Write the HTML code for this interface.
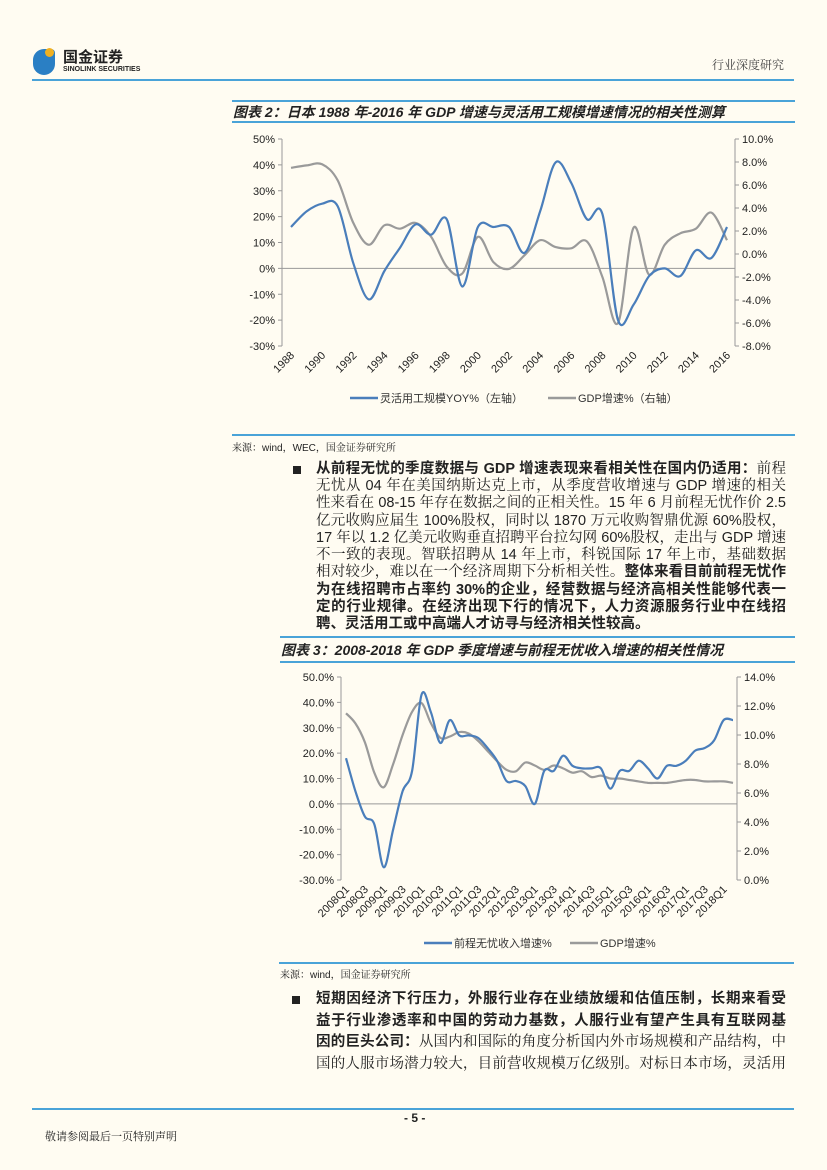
<!DOCTYPE html>
<html><head><meta charset="utf-8">
<style>
body{margin:0;background:#fffcf2;}
#page{position:relative;width:827px;height:1170px;overflow:hidden;background:#fffcf2;font-family:"Liberation Sans","Noto Sans CJK SC",sans-serif;color:#222;}
.abs{position:absolute;}
.hl{position:absolute;height:2px;background:#4aa3d8;}
.ln{position:absolute;font-family:"Liberation Sans","Noto Serif CJK SC",serif;font-size:14.5px;line-height:17px;text-align:justify;text-align-last:justify;white-space:nowrap;overflow:visible;}
.ln.last{text-align-last:left;}
.ln b{font-weight:bold;font-family:"Liberation Sans","Noto Sans CJK SC",sans-serif;}
.bullet{position:absolute;width:8px;height:8px;background:#222;}
svg text{font-family:"Liberation Sans","Noto Sans CJK SC",sans-serif;}
</style></head><body>
<div id="page">
  <div class="abs" style="left:33px;top:49px;width:22px;height:26px;border-radius:11px 4px 11px 11px;background:#2a7fc4;"></div>
  <div class="abs" style="left:45px;top:48px;width:9px;height:9px;border-radius:50%;background:#f0b020;"></div>
  <div class="abs" style="left:63px;top:46px;font-size:15px;font-weight:bold;font-family:'Noto Sans CJK SC',sans-serif;">国金证券</div>
  <div class="abs" style="left:63px;top:66px;font-size:7px;font-weight:bold;">SINOLINK SECURITIES</div>
  <div class="abs" style="left:712px;top:56px;font-size:12px;font-family:'Noto Serif CJK SC',serif;color:#444;">行业深度研究</div>
  <div class="hl" style="left:32px;top:79px;width:762px;"></div>

  <div class="hl" style="left:232px;top:100px;width:563px;"></div>
  <div class="abs" style="left:233px;top:102px;font-size:14px;font-weight:bold;font-style:italic;">图表 2：日本 1988 年-2016 年 GDP 增速与灵活用工规模增速情况的相关性测算</div>
  <div class="hl" style="left:232px;top:121px;width:563px;"></div>

  <svg class="abs" style="left:0;top:0" width="827" height="1170">
    <g id="c1"></g><g id="c2"></g>
  </svg>

  <div class="hl" style="left:232px;top:434px;width:563px;"></div>
  <div class="abs" style="left:232px;top:439px;font-size:10px;font-family:'Liberation Sans','Noto Serif CJK SC',serif;">来源：wind，WEC，国金证券研究所</div>

  <div class="bullet" style="left:293px;top:466px;"></div>
  <div>
    <div class="ln" style="left:316px;top:461px;width:470px;"><b>从前程无忧的季度数据与 GDP 增速表现来看相关性在国内仍适用：</b>前程</div>
    <div class="ln" style="left:316px;top:478px;width:470px;">无忧从 04 年在美国纳斯达克上市，从季度营收增速与 GDP 增速的相关</div>
    <div class="ln" style="left:316px;top:495px;width:470px;">性来看在 08-15 年存在数据之间的正相关性。15 年 6 月前程无忧作价 2.5</div>
    <div class="ln" style="left:316px;top:513px;width:470px;">亿元收购应届生 100%股权，同时以 1870 万元收购智鼎优源 60%股权，</div>
    <div class="ln" style="left:316px;top:530px;width:470px;">17 年以 1.2 亿美元收购垂直招聘平台拉勾网 60%股权，走出与 GDP 增速</div>
    <div class="ln" style="left:316px;top:547px;width:470px;">不一致的表现。智联招聘从 14 年上市，科锐国际 17 年上市，基础数据</div>
    <div class="ln" style="left:316px;top:564px;width:470px;">相对较少，难以在一个经济周期下分析相关性。<b>整体来看目前前程无忧作</b></div>
    <div class="ln" style="left:316px;top:582px;width:470px;"><b>为在线招聘市占率约 30%的企业，经营数据与经济高相关性能够代表一</b></div>
    <div class="ln" style="left:316px;top:599px;width:470px;"><b>定的行业规律。在经济出现下行的情况下，人力资源服务行业中在线招</b></div>
    <div class="ln last" style="left:316px;top:616px;width:470px;"><b>聘、灵活用工或中高端人才访寻与经济相关性较高。</b></div>
  </div>

  <div class="hl" style="left:280px;top:636px;width:515px;"></div>
  <div class="abs" style="left:281px;top:640px;font-size:14px;font-weight:bold;font-style:italic;">图表 3：2008-2018 年 GDP 季度增速与前程无忧收入增速的相关性情况</div>
  <div class="hl" style="left:280px;top:661px;width:515px;"></div>

  <div class="hl" style="left:279px;top:962px;width:515px;"></div>
  <div class="abs" style="left:280px;top:966px;font-size:10px;font-family:'Liberation Sans','Noto Serif CJK SC',serif;">来源：wind，国金证券研究所</div>

  <div class="bullet" style="left:292px;top:996px;"></div>
  <div>
    <div class="ln" style="left:316px;top:991px;width:470px;"><b>短期因经济下行压力，外服行业存在业绩放缓和估值压制，长期来看受</b></div>
    <div class="ln" style="left:316px;top:1013px;width:470px;"><b>益于行业渗透率和中国的劳动力基数，人服行业有望产生具有互联网基</b></div>
    <div class="ln" style="left:316px;top:1034px;width:470px;"><b>因的巨头公司：</b>从国内和国际的角度分析国内外市场规模和产品结构，中</div>
    <div class="ln" style="left:316px;top:1056px;width:470px;">国的人服市场潜力较大，目前营收规模万亿级别。对标日本市场，灵活用</div>
  </div>

  <div class="hl" style="left:32px;top:1108px;width:762px;"></div>
  <div class="abs" style="left:404px;top:1111px;font-size:12px;font-weight:bold;">- 5 -</div>
  <div class="abs" style="left:45px;top:1128px;font-size:11px;font-family:'Noto Serif CJK SC',serif;">敬请参阅最后一页特别声明</div>
</div>
<script>
// Chart 1 data
const years1 = [1988,1989,1990,1991,1992,1993,1994,1995,1996,1997,1998,1999,2000,2001,2002,2003,2004,2005,2006,2007,2008,2009,2010,2011,2012,2013,2014,2015,2016];
const flexYoY = [16,22,25,24,2,-12,-1,8,17,13,19,-7,16,16,16,6,22,41,33,19,21,-20,-14,-3,0,-3,7,4,16];
const gdp1 = [7.5,7.7,7.8,6.4,2.7,0.8,2.5,2.2,2.7,1.5,-1.1,-1.7,1.5,-0.7,-1.3,-0.1,1.2,0.6,0.5,1.1,-2.0,-6.0,2.3,-1.8,0.8,1.8,2.2,3.6,1.2];
const leftTicks1 = [50,40,30,20,10,0,-10,-20,-30];
const rightTicks1 = [10,8,6,4,2,0,-2,-4,-6,-8];
// Chart 2 data
const quarters2 = ['2008Q1','2008Q2','2008Q3','2008Q4','2009Q1','2009Q2','2009Q3','2009Q4','2010Q1','2010Q2','2010Q3','2010Q4','2011Q1','2011Q2','2011Q3','2011Q4','2012Q1','2012Q2','2012Q3','2012Q4','2013Q1','2013Q2','2013Q3','2013Q4','2014Q1','2014Q2','2014Q3','2014Q4','2015Q1','2015Q2','2015Q3','2015Q4','2016Q1','2016Q2','2016Q3','2016Q4','2017Q1','2017Q2','2017Q3','2017Q4','2018Q1','2018Q2'];
const revGrowth = [18,5,-5,-8,-25,-10,5,13,43,36,24,33,27,27,26,22,17,9,9,7,0,13,13,19,15,14,14,14,6,13,13,17,14,10,15,15,17,21,22,25,33,33];
const gdp2 = [11.5,10.8,9.5,7.4,6.4,8.0,10.0,11.6,12.2,10.8,9.8,9.9,10.2,10.1,9.6,8.9,8.2,7.6,7.5,8.1,7.9,7.6,7.9,7.7,7.4,7.5,7.1,7.2,7.0,7.0,6.9,6.8,6.7,6.7,6.7,6.8,6.9,6.9,6.8,6.8,6.8,6.7];
const leftTicks2 = [50,40,30,20,10,0,-10,-20,-30];
const rightTicks2 = [14,12,10,8,6,4,2,0];

const NS='http://www.w3.org/2000/svg';
function mk(parent,tag,attrs){const e=document.createElementNS(NS,tag);for(const k in attrs)e.setAttribute(k,attrs[k]);parent.appendChild(e);return e;}
function smooth(pts){let d='M'+pts[0][0].toFixed(1)+','+pts[0][1].toFixed(1);
  for(let i=0;i<pts.length-1;i++){const p0=pts[i-1]||pts[i],p1=pts[i],p2=pts[i+1],p3=pts[i+2]||p2;
    const c1=[p1[0]+(p2[0]-p0[0])/6,p1[1]+(p2[1]-p0[1])/6],c2=[p2[0]-(p3[0]-p1[0])/6,p2[1]-(p3[1]-p1[1])/6];
    d+='C'+c1[0].toFixed(1)+','+c1[1].toFixed(1)+' '+c2[0].toFixed(1)+','+c2[1].toFixed(1)+' '+p2[0].toFixed(1)+','+p2[1].toFixed(1);}
  return d;}

function drawChart(g,cfg){
  const yL=v=>cfg.top+(cfg.lMax-v)/(cfg.lMax-cfg.lMin)*(cfg.bot-cfg.top);
  const yR=v=>cfg.top+(cfg.rMax-v)/(cfg.rMax-cfg.rMin)*(cfg.bot-cfg.top);
  const x=i=>cfg.x0+i*(cfg.x1-cfg.x0)/(cfg.cats.length-1);
  let a=mk(g,'line',{x1:cfg.axL,y1:cfg.top,x2:cfg.axL,y2:cfg.bot,stroke:'#999','stroke-width':1});
  
  a=mk(g,'line',{x1:cfg.axR,y1:cfg.top,x2:cfg.axR,y2:cfg.bot,stroke:'#999','stroke-width':1});
  
  a=mk(g,'line',{x1:cfg.axL,y1:yL(0),x2:cfg.axR,y2:yL(0),stroke:'#999','stroke-width':1});
  
  cfg.lt.forEach(v=>{mk(g,'line',{x1:cfg.axL-4,y1:yL(v),x2:cfg.axL,y2:yL(v),stroke:'#999'});
    const t=mk(g,'text',{x:cfg.axL-7,y:yL(v)+4,'text-anchor':'end','font-size':11,fill:'#222'});
    t.textContent=v.toFixed(cfg.dec)+'%';
    });
  cfg.rt.forEach(v=>{mk(g,'line',{x1:cfg.axR,y1:yR(v),x2:cfg.axR+4,y2:yR(v),stroke:'#999'});
    const t=mk(g,'text',{x:cfg.axR+7,y:yR(v)+4,'font-size':11,fill:'#222'});
    t.textContent=v.toFixed(1)+'%';
    });
  cfg.cats.forEach((c,i)=>{if(i%cfg.every)return;
    const xx=x(i),yy=cfg.bot+10;
    const t=mk(g,'text',{x:xx+4,y:yy,'text-anchor':'end','font-size':11,fill:'#222',transform:'rotate(-45 '+(xx+4)+' '+yy+')'});
    t.textContent=c;
    });
  let p=mk(g,'path',{d:smooth(cfg.s2.map((v,i)=>[x(i),yR(v)])),fill:'none',stroke:'#9a9a9a','stroke-width':2.2});
  
  p=mk(g,'path',{d:smooth(cfg.s1.map((v,i)=>[x(i),yL(v)])),fill:'none',stroke:'#4a7ebb','stroke-width':2.2});
  
  cfg.leg.forEach(l=>{let ln=mk(g,'line',{x1:l.x,y1:cfg.ly,x2:l.x+28,y2:cfg.ly,stroke:l.c,'stroke-width':2.5});
    
    const t=mk(g,'text',{x:l.x+30,y:cfg.ly+4,'font-size':11,fill:'#333'});t.textContent=l.t;
    });
}
drawChart(document.getElementById('c1'),{cats:years1,s1:flexYoY,s2:gdp1,lt:leftTicks1,rt:rightTicks1,
  top:139,bot:346,lMax:50,lMin:-30,rMax:10,rMin:-8,axL:282,axR:735,x0:291,x1:727,every:2,dec:0,
  ly:398,leg:[{x:350,c:'#4a7ebb',t:'灵活用工规模YOY%（左轴）'},{x:548,c:'#9a9a9a',t:'GDP增速%（右轴）'}]});
drawChart(document.getElementById('c2'),{cats:quarters2,s1:revGrowth,s2:gdp2,lt:leftTicks2,rt:rightTicks2,
  top:677,bot:880,lMax:50,lMin:-30,rMax:14,rMin:0,axL:341,axR:737,x0:346,x1:733,every:2,dec:1,
  ly:943,leg:[{x:424,c:'#4a7ebb',t:'前程无忧收入增速%'},{x:570,c:'#9a9a9a',t:'GDP增速%'}]});
</script>
</body></html>
